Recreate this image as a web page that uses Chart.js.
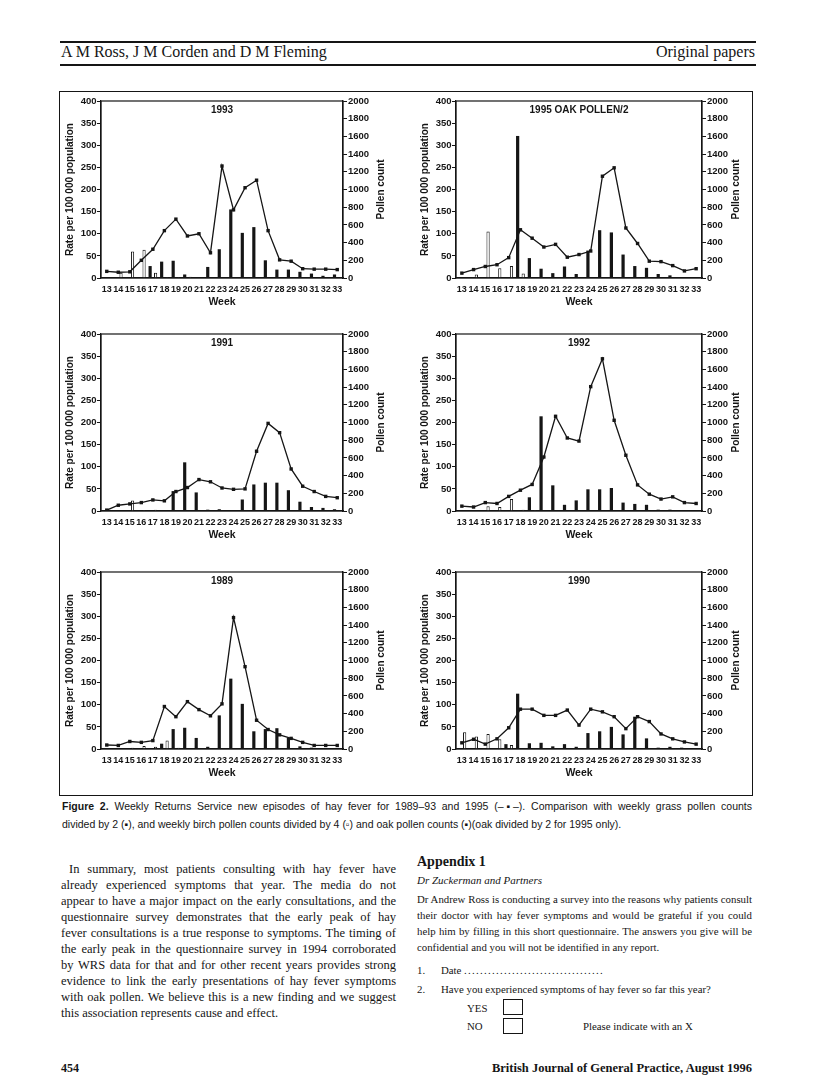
<!DOCTYPE html>
<html><head><meta charset="utf-8"><title>Weekly Returns Service – hay fever and pollen counts</title>
<script src="https://cdn.jsdelivr.net/npm/chart.js@4.4.1/dist/chart.umd.min.js"></script>
<style>
html,body{margin:0;padding:0;background:#fff;}
body{width:816px;height:1092px;position:relative;overflow:hidden;color:#151515;font-family:'Liberation Serif','Times New Roman',serif;}
.a{position:absolute;white-space:nowrap;}
.rule{position:absolute;left:60px;width:696px;background:#151515;}
.hdr{position:absolute;font-size:16px;line-height:16px;top:43.5px;white-space:nowrap;}
.frame{position:absolute;left:59px;top:91px;width:692px;height:703px;border:1.5px solid #151515;}
.cv{position:absolute;}
.cap{position:absolute;font-family:'Liberation Sans',Arial,sans-serif;font-size:10.5px;line-height:18px;left:62px;width:690px;white-space:nowrap;}
.j{text-align:justify;text-align-last:justify;}
.lc{position:absolute;left:61px;width:335px;font-size:12.5px;line-height:16px;}
.lc div{height:16px;}
.rc{position:absolute;left:417px;width:335px;font-size:10.8px;line-height:16px;}
.rc div{height:16px;}
.sm{font-size:10.8px;line-height:14px;}
.box{position:absolute;width:18px;height:14px;border:1px solid #151515;}
</style></head><body>

<div class="rule" style="top:41px;height:2px;"></div>
<div class="hdr" style="left:61px;">A M Ross, J M Corden and D M Fleming</div>
<div class="hdr" style="right:61px;">Original papers</div>
<div class="rule" style="top:64px;height:1.5px;"></div>

<div class="frame"></div>

<canvas id="c1993" class="cv" width="329" height="215" style="left:61px;top:93px;"></canvas>
<canvas id="c1995" class="cv" width="329" height="215" style="left:416px;top:93px;"></canvas>
<canvas id="c1991" class="cv" width="329" height="215" style="left:61px;top:326px;"></canvas>
<canvas id="c1992" class="cv" width="329" height="215" style="left:416px;top:326px;"></canvas>
<canvas id="c1989" class="cv" width="329" height="215" style="left:61px;top:564px;"></canvas>
<canvas id="c1990" class="cv" width="329" height="215" style="left:416px;top:564px;"></canvas>

<div class="cap j" style="top:797px;"><b>Figure 2.</b> Weekly Returns Service new episodes of hay fever for 1989–93 and 1995 (–▪–). Comparison with weekly grass pollen counts</div>
<div class="cap" style="top:815px;">divided by 2 (▪), and weekly birch pollen counts divided by 4 (▫) and oak pollen counts (▪)(oak divided by 2 for 1995 only).</div>

<div class="lc" style="top:861px;">
<div class="j" style="padding-left:8px;">In summary, most patients consulting with hay fever have</div>
<div class="j">already experienced symptoms that year. The media do not</div>
<div class="j">appear to have a major impact on the early consultations, and the</div>
<div class="j">questionnaire survey demonstrates that the early peak of hay</div>
<div class="j">fever consultations is a true response to symptoms. The timing of</div>
<div class="j">the early peak in the questionnaire survey in 1994 corroborated</div>
<div class="j">by WRS data for that and for other recent years provides strong</div>
<div class="j">evidence to link the early presentations of hay fever symptoms</div>
<div class="j">with oak pollen. We believe this is a new finding and we suggest</div>
<div>this association represents cause and effect.</div>
</div>

<div class="a" style="left:417px;top:854px;font-size:14px;line-height:16px;font-weight:bold;">Appendix 1</div>
<div class="a" style="left:417px;top:873px;font-size:11px;line-height:14px;font-style:italic;">Dr Zuckerman and Partners</div>
<div class="rc" style="top:891px;">
<div class="j">Dr Andrew Ross is conducting a survey into the reasons why patients consult</div>
<div class="j">their doctor with hay fever symptoms and would be grateful if you could</div>
<div class="j">help him by filling in this short questionnaire. The answers you give will be</div>
<div>confidential and you will not be identified in any report.</div>
</div>
<div class="a sm" style="left:417px;top:963px;">1.</div>
<div class="a sm" style="left:441px;top:963px;">Date <span style="letter-spacing:1.3px;">...................................</span></div>
<div class="a sm" style="left:417px;top:982px;">2.</div>
<div class="a sm" style="left:441px;top:982px;">Have you experienced symptoms of hay fever so far this year?</div>
<div class="a sm" style="left:467px;top:1001px;">YES</div>
<div class="box" style="left:503px;top:999px;"></div>
<div class="a sm" style="left:467px;top:1019px;">NO</div>
<div class="box" style="left:503px;top:1018px;"></div>
<div class="a sm" style="left:583px;top:1019px;">Please indicate with an X</div>

<div class="a" style="left:61px;top:1061px;font-size:12px;line-height:14px;font-weight:bold;">454</div>
<div class="a" style="right:64px;top:1061px;font-size:12.5px;line-height:14px;font-weight:bold;">British Journal of General Practice, August 1996</div>

<script>
// ---- data (bars in pollen-count units on the right axis; line in rate per 100 000 on the left axis)
const weeks = ['13','14','15','16','17','18','19','20','21','22','23','24','25','26','27','28','29','30','31','32','33'];
const rateTicks = [0,50,100,150,200,250,300,350,400];
const pollenTicks = [0,200,400,600,800,1000,1200,1400,1600,1800,2000];

const rate1993  = [15,13,14,40,65,107,133,95,100,57,253,154,204,221,107,41,38,21,20,20,19];
const oak1993   = [10,0,0,10,135,185,195,40,10,0,0,0,0,0,0,0,0,0,0,0,0];
const grass1993 = [0,0,0,0,0,0,0,0,0,125,325,775,510,575,200,95,95,70,50,25,40];
const birch1993 = [0,60,300,320,60,10,10,15,0,0,0,0,0,0,0,0,0,0,0,0,0];

const rate1995  = [11,19,26,30,46,109,90,70,76,47,53,61,230,249,113,78,38,37,28,16,21];
const oak1995   = [0,0,0,10,0,1605,225,105,55,130,45,0,0,0,0,0,0,0,0,0,0];
const grass1995 = [0,0,0,0,0,0,0,0,0,0,0,310,540,515,265,135,115,45,30,0,0];
const birch1995 = [0,40,525,110,135,50,0,0,0,0,0,0,0,0,0,0,0,0,0,0,0];

const rate1991  = [2,13,16,19,25,23,44,53,71,66,52,49,50,135,198,177,95,56,44,33,30];
const oak1991   = [0,0,0,10,10,0,225,550,210,15,20,10,0,0,0,0,0,0,0,0,0];
const grass1991 = [0,0,0,0,0,0,0,0,0,0,0,0,130,300,320,320,235,105,45,35,20];
const birch1991 = [0,0,120,10,15,0,0,0,0,0,0,0,0,0,0,0,0,0,0,0,0];

const rate1992  = [11,9,19,17,33,47,60,122,214,165,158,281,344,205,126,59,38,27,32,19,17];
const oak1992   = [0,0,0,0,0,10,155,1070,290,70,0,0,0,0,0,0,0,0,0,0,0];
const grass1992 = [0,0,0,0,0,0,0,0,0,0,120,245,245,260,95,80,70,15,15,5,0];
const birch1992 = [0,0,55,45,135,15,10,0,0,0,0,0,0,0,0,0,0,0,0,0,0];

const rate1989  = [9,8,17,15,19,96,73,107,89,75,102,297,186,65,44,32,24,15,8,8,8];
const oak1989   = [0,0,0,0,0,60,225,240,125,25,0,0,0,0,0,0,0,0,0,0,0];
const grass1989 = [0,0,0,0,0,0,0,0,0,0,380,795,510,200,225,235,125,30,15,10,5];
const birch1989 = [0,0,15,35,25,95,15,0,0,0,0,0,0,0,0,0,0,0,0,0,0];

const rate1990  = [14,22,11,23,48,90,90,76,76,88,54,90,84,73,46,73,62,34,23,16,11];
const oak1990   = [0,0,0,10,55,625,65,70,30,55,25,0,0,0,0,0,0,0,0,0,0];
const grass1990 = [0,0,0,0,0,0,0,0,0,0,0,180,200,250,165,365,120,15,25,15,10];
const birch1990 = [190,140,170,110,45,0,0,0,0,0,0,0,0,0,0,0,0,0,0,0,0];

const INK = '#151515';
const SANS = "'Liberation Sans', Arial, sans-serif";

function boxPlugin(title, rightTitle, rightOffset){
  return {
    id: 'boxAndTitles',
    afterDraw(chart){
      const ctx = chart.ctx, a = chart.chartArea;
      ctx.save();
      ctx.strokeStyle = INK; ctx.lineWidth = 1.2;
      ctx.strokeRect(a.left, a.top, a.right - a.left, a.bottom - a.top);
      ctx.fillStyle = INK;
      ctx.font = 'bold 10px ' + SANS;
      ctx.textAlign = 'center'; ctx.textBaseline = 'middle';
      ctx.fillText(title, (a.left + a.right) / 2, a.top + 9);
      const s = chart.scales.y1;
      ctx.translate(s.right - rightOffset, (a.top + a.bottom) / 2);
      ctx.rotate(-Math.PI / 2);
      ctx.fillText(rightTitle, 0, 0);
      ctx.restore();
    }
  };
}

function makeChart(id, title, rate, oak, grass, birch, rightW){
  const yTickFont = {family: SANS, size: 9.5, weight: 'bold'};
  const xTickFont = {family: SANS, size: 9, weight: 'bold'};
  const plain = (v) => String(v);
  new Chart(document.getElementById(id), {
    type: 'bar',
    data: {
      labels: weeks,
      datasets: [
        {type: 'line', label: 'WRS new episodes', data: rate, yAxisID: 'y', borderColor: INK, borderWidth: 1.3,
         pointStyle: 'rect', pointRadius: 2.4, pointBackgroundColor: INK, pointBorderWidth: 0, tension: 0, order: 0},
        {label: 'Oak pollen', data: oak, yAxisID: 'y1', stack: 'filled', backgroundColor: INK, borderWidth: 0,
         categoryPercentage: 0.95, barPercentage: 0.58, order: 1},
        {label: 'Grass pollen/2', data: grass, yAxisID: 'y1', stack: 'filled', backgroundColor: INK, borderWidth: 0,
         categoryPercentage: 0.95, barPercentage: 0.58, order: 1},
        {label: 'Birch pollen/4', data: birch, yAxisID: 'y1', stack: 'hollow', backgroundColor: '#fff', borderColor: INK, borderWidth: 1,
         categoryPercentage: 0.95, barPercentage: 0.58, order: 1}
      ]
    },
    options: {
      responsive: false, animation: false, devicePixelRatio: 1,
      layout: {padding: {top: 8, left: 0, right: 0, bottom: 0}},
      plugins: {legend: {display: false}, tooltip: {enabled: false}},
      scales: {
        x: {
          type: 'category', offset: true,
          grid: {display: true, drawOnChartArea: false, drawTicks: false},
          border: {display: true, color: INK, width: 1.2},
          ticks: {autoSkip: false, maxRotation: 0, minRotation: 0, padding: 6, color: INK, font: xTickFont},
          title: {display: true, text: 'Week', color: INK, font: {family: SANS, size: 10.5, weight: 'bold'}, padding: 0},
          afterFit(s){ s.height = 30; }
        },
        y: {
          position: 'left', min: 0, max: 400,
          afterBuildTicks(s){ s.ticks = rateTicks.map(v => ({value: v})); },
          ticks: {padding: 0.5, color: INK, font: yTickFont, callback: plain},
          grid: {drawOnChartArea: false, drawTicks: true, tickLength: 4, color: INK, lineWidth: 1},
          border: {display: true, color: INK, width: 1.2},
          title: {display: true, text: 'Rate per 100 000 population', color: INK, font: {family: SANS, size: 10, weight: 'bold'}, padding: {top: 3, bottom: 0}},
          afterFit(s){ s.width = 40; }
        },
        y1: {
          position: 'right', min: 0, max: 2000,
          afterBuildTicks(s){ s.ticks = pollenTicks.map(v => ({value: v})); },
          ticks: {padding: 1, color: INK, font: yTickFont, callback: plain},
          grid: {drawOnChartArea: false, drawTicks: true, tickLength: 4, color: INK, lineWidth: 1},
          border: {display: true, color: INK, width: 1.2},
          afterFit(s){ s.width = rightW; }
        }
      }
    },
    plugins: [boxPlugin(title, 'Pollen count', 8.3)]
  });
}

makeChart('c1993', '1993', rate1993, oak1993, grass1993, birch1993, 47);
makeChart('c1995', '1995 OAK POLLEN/2', rate1995, oak1995, grass1995, birch1995, 43);
makeChart('c1991', '1991', rate1991, oak1991, grass1991, birch1991, 47);
makeChart('c1992', '1992', rate1992, oak1992, grass1992, birch1992, 43);
makeChart('c1989', '1989', rate1989, oak1989, grass1989, birch1989, 47);
makeChart('c1990', '1990', rate1990, oak1990, grass1990, birch1990, 43);
</script>
</body></html>
